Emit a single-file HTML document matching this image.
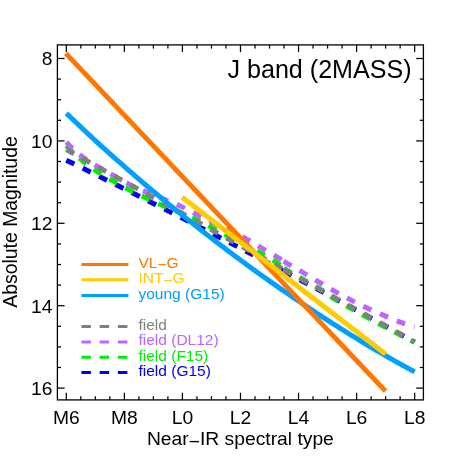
<!DOCTYPE html>
<html><head><meta charset="utf-8"><title>J band (2MASS)</title>
<style>
html,body{margin:0;padding:0;background:#fff;}
svg{display:block;font-family:"Liberation Sans",sans-serif;will-change:transform;}
</style></head><body>
<svg width="457" height="457" viewBox="0 0 457 457">
<rect width="457" height="457" fill="#fff"/>
<g fill="none" stroke-width="5" stroke-linecap="butt" stroke-linejoin="round">
<path d="M66.30,160.21 L68.74,161.40 L71.19,162.60 L73.63,163.79 L76.08,164.99 L78.52,166.19 L80.96,167.39 L83.41,168.59 L85.85,169.79 L88.29,170.99 L90.74,172.20 L93.18,173.40 L95.63,174.61 L98.07,175.82 L100.51,177.03 L102.96,178.24 L105.40,179.45 L107.84,180.66 L110.29,181.88 L112.73,183.09 L115.18,184.31 L117.62,185.53 L120.06,186.75 L122.51,187.97 L124.95,189.19 L127.40,190.41 L129.84,191.63 L132.28,192.86 L134.73,194.09 L137.17,195.31 L139.61,196.54 L142.06,197.77 L144.50,199.01 L146.95,200.24 L149.39,201.47 L151.83,202.71 L154.28,203.94 L156.72,205.18 L159.17,206.42 L161.61,207.66 L164.05,208.90 L166.50,210.14 L168.94,211.39 L171.38,212.63 L173.83,213.88 L176.27,215.12 L178.72,216.37 L181.16,217.62 L183.60,218.87 L186.05,220.12 L188.49,221.38 L190.93,222.63 L193.38,223.89 L195.82,225.14 L198.27,226.40 L200.71,227.66 L203.15,228.92 L205.60,230.18 L208.04,231.44 L210.49,232.71 L212.93,233.97 L215.37,235.24 L217.82,236.51 L220.26,237.77 L222.70,239.04 L225.15,240.31 L227.59,241.59 L230.04,242.86 L232.48,244.13 L234.92,245.41 L237.37,246.68 L239.81,247.96 L242.26,249.24 L244.70,250.52 L247.14,251.80 L249.59,253.08 L252.03,254.37 L254.47,255.65 L256.92,256.94 L259.36,258.22 L261.81,259.51 L264.25,260.80 L266.69,262.09 L269.14,263.38 L271.58,264.67 L274.02,265.96 L276.47,267.26 L278.91,268.55 L281.36,269.85 L283.80,271.15" stroke="#0000ee" stroke-dasharray="8.9 9.37"/><path d="M283.80,271.15 L286.22,272.44 L288.64,273.72 L291.07,275.01 L293.49,276.30 L295.91,277.60 L298.33,278.89 L300.76,280.18 L303.18,281.48 L305.60,282.77 L308.02,284.07 L310.44,285.37 L312.87,286.67 L315.29,287.97 L317.71,289.27 L320.13,290.57 L322.56,291.88 L324.98,293.18 L327.40,294.49 L329.82,295.79 L332.24,297.10 L334.67,298.41 L337.09,299.72 L339.51,301.03 L341.93,302.34 L344.36,303.65 L346.78,304.97 L349.20,306.28 L351.62,307.60 L354.04,308.92 L356.47,310.23 L358.89,311.55 L361.31,312.87 L363.73,314.19 L366.16,315.52 L368.58,316.84 L371.00,318.16 L373.42,319.49 L375.84,320.82 L378.27,322.14 L380.69,323.47 L383.11,324.80 L385.53,326.13 L387.96,327.46 L390.38,328.80 L392.80,330.13 L395.22,331.46 L397.64,332.80 L400.07,334.13 L402.49,335.47 L404.91,336.81 L407.33,338.15 L409.76,339.49 L412.18,340.83 L414.60,342.17" stroke="#0000ee" stroke-dasharray="8.9 9.37"/>
<path d="M66.30,145.49 L68.74,148.01 L71.19,150.46 L73.63,152.83 L76.08,155.11 L78.52,157.28 L80.96,159.43 L83.41,161.57 L85.85,163.65 L88.29,165.62 L90.74,167.44 L93.18,169.07 L95.63,170.61 L98.07,172.13 L100.51,173.63 L102.96,175.11 L105.40,176.56 L107.84,177.98 L110.29,179.37 L112.73,180.73 L115.18,182.08 L117.62,183.43 L120.06,184.78 L122.51,186.13 L124.95,187.48 L127.40,188.82 L129.84,190.16 L132.28,191.42 L134.73,192.62 L137.17,193.78 L139.61,194.92 L142.06,196.05 L144.50,197.19 L146.95,198.35 L149.39,199.49 L151.83,200.63 L154.28,201.75 L156.72,202.87 L159.17,203.97 L161.61,205.07 L164.05,206.13 L166.50,207.16 L168.94,208.17 L171.38,209.15 L173.83,210.13 L176.27,211.10 L178.72,212.06 L181.16,213.04 L183.60,214.03 L186.05,215.04 L188.49,216.08 L190.93,217.16 L193.38,218.28 L195.82,219.44 L198.27,220.63 L200.71,221.83 L203.15,223.05 L205.60,224.28 L208.04,225.52 L210.49,226.77 L212.93,228.03 L215.37,229.30 L217.82,230.57 L220.26,231.85 L222.70,233.13 L225.15,234.41 L227.59,235.68 L230.04,236.95 L232.48,238.22 L234.92,239.49 L237.37,240.75 L239.81,242.01 L242.26,243.28 L244.70,244.55 L247.14,245.83 L249.59,247.12 L252.03,248.41 L254.47,249.72 L256.92,251.04 L259.36,252.37 L261.81,253.72 L264.25,255.11 L266.69,256.51 L269.14,257.95 L271.58,259.40 L274.02,260.87 L276.47,262.36 L278.91,264.09 L281.36,266.01 L283.80,267.95" stroke="#00ee00" stroke-dasharray="8.9 9.37"/><path d="M283.80,267.95 L286.22,269.74 L288.64,271.26 L291.07,272.67 L293.49,274.06 L295.91,275.45 L298.33,276.82 L300.76,278.19 L303.18,279.55 L305.60,280.91 L308.02,282.26 L310.44,283.61 L312.87,284.95 L315.29,286.30 L317.71,287.66 L320.13,289.02 L322.56,290.52 L324.98,292.20 L327.40,293.99 L329.82,295.80 L332.24,297.55 L334.67,299.17 L337.09,300.60 L339.51,301.99 L341.93,303.37 L344.36,304.74 L346.78,306.10 L349.20,307.45 L351.62,308.80 L354.04,310.13 L356.47,311.47 L358.89,312.81 L361.31,314.15 L363.73,315.48 L366.16,316.82 L368.58,318.16 L371.00,319.48 L373.42,320.80 L375.84,322.10 L378.27,323.40 L380.69,324.69 L383.11,325.98 L385.53,327.28 L387.96,328.56 L390.38,329.85 L392.80,331.12 L395.22,332.39 L397.64,333.66 L400.07,334.92 L402.49,336.18 L404.91,337.43 L407.33,338.67 L409.76,339.91 L412.18,341.14 L414.60,342.36" stroke="#00ee00" stroke-dasharray="8.9 9.37"/>
<path d="M66.30,142.10 L68.74,144.68 L71.19,147.16 L73.63,149.53 L76.08,151.75 L78.52,153.79 L80.96,155.64 L83.41,157.43 L85.85,159.17 L88.29,160.85 L90.74,162.46 L93.18,163.99 L95.63,165.41 L98.07,166.82 L100.51,168.22 L102.96,169.61 L105.40,170.99 L107.84,172.37 L110.29,173.75 L112.73,175.11 L115.18,176.48 L117.62,177.83 L120.06,179.18 L122.51,180.53 L124.95,181.88 L127.40,183.22 L129.84,184.57 L132.28,185.92 L134.73,187.26 L137.17,188.44 L139.61,189.47 L142.06,190.43 L144.50,191.39 L146.95,192.41 L149.39,193.42 L151.83,194.42 L154.28,195.42 L156.72,196.41 L159.17,197.39 L161.61,198.38 L164.05,199.38 L166.50,200.34 L168.94,201.26 L171.38,202.18 L173.83,203.13 L176.27,204.13 L178.72,205.20 L181.16,206.38 L183.60,207.63 L186.05,208.90 L188.49,210.18 L190.93,211.47 L193.38,212.76 L195.82,214.04 L198.27,215.29 L200.71,216.52 L203.15,217.73 L205.60,218.92 L208.04,220.10 L210.49,221.27 L212.93,222.43 L215.37,223.59 L217.82,224.74 L220.26,225.89 L222.70,227.04 L225.15,228.20 L227.59,229.36 L230.04,230.54 L232.48,231.73 L234.92,232.94 L237.37,234.17 L239.81,235.42 L242.26,236.69 L244.70,237.99 L247.14,239.33 L249.59,240.72 L252.03,242.19 L254.47,243.71 L256.92,245.24 L259.36,246.75 L261.81,248.21 L264.25,249.62 L266.69,251.02 L269.14,252.40 L271.58,253.79 L274.02,255.18 L276.47,256.59 L278.91,258.06 L281.36,259.62 L283.80,261.22" stroke="#bb66ff" stroke-dasharray="8.9 9.37"/><path d="M283.80,261.22 L286.22,262.78 L288.64,264.26 L291.07,265.67 L293.49,267.07 L295.91,268.46 L298.33,269.85 L300.76,271.24 L303.18,272.65 L305.60,274.07 L308.02,275.51 L310.44,276.96 L312.87,278.42 L315.29,279.87 L317.71,281.31 L320.13,282.74 L322.56,284.18 L324.98,285.62 L327.40,287.05 L329.82,288.47 L332.24,289.87 L334.67,291.24 L337.09,292.57 L339.51,293.90 L341.93,295.21 L344.36,296.51 L346.78,297.81 L349.20,299.10 L351.62,300.39 L354.04,301.65 L356.47,302.88 L358.89,304.07 L361.31,305.24 L363.73,306.40 L366.16,307.55 L368.58,308.69 L371.00,309.81 L373.42,310.91 L375.84,311.97 L378.27,313.02 L380.69,314.06 L383.11,315.09 L385.53,316.12 L387.96,317.15 L390.38,318.16 L392.80,319.17 L395.22,320.15 L397.64,321.11 L400.07,322.05 L402.49,322.95 L404.91,323.80 L407.33,324.60 L409.76,325.35 L412.18,326.07 L414.60,326.76" stroke="#bb66ff" stroke-dasharray="8.9 9.37"/>
<path d="M66.30,149.50 L68.74,150.85 L71.19,152.20 L73.63,153.55 L76.08,154.90 L78.52,156.24 L80.96,157.59 L83.41,158.94 L85.85,160.29 L88.29,161.64 L90.74,162.99 L93.18,164.34 L95.63,165.69 L98.07,167.04 L100.51,168.39 L102.96,169.73 L105.40,171.08 L107.84,172.43 L110.29,173.78 L112.73,175.13 L115.18,176.48 L117.62,177.83 L120.06,179.18 L122.51,180.53 L124.95,181.88 L127.40,183.22 L129.84,184.57 L132.28,185.92 L134.73,187.27 L137.17,188.62 L139.61,189.97 L142.06,191.32 L144.50,192.67 L146.95,194.02 L149.39,195.37 L151.83,196.71 L154.28,198.06 L156.72,199.41 L159.17,200.76 L161.61,202.11 L164.05,203.46 L166.50,204.81 L168.94,206.16 L171.38,207.51 L173.83,208.86 L176.27,210.20 L178.72,211.55 L181.16,212.90 L183.60,214.25 L186.05,215.60 L188.49,216.95 L190.93,218.30 L193.38,219.65 L195.82,221.00 L198.27,222.35 L200.71,223.69 L203.15,225.04 L205.60,226.39 L208.04,227.74 L210.49,229.09 L212.93,230.44 L215.37,231.79 L217.82,233.14 L220.26,234.49 L222.70,235.84 L225.15,237.18 L227.59,238.53 L230.04,239.88 L232.48,241.23 L234.92,242.58 L237.37,243.93 L239.81,245.28 L242.26,246.63 L244.70,247.98 L247.14,249.33 L249.59,250.67 L252.03,252.02 L254.47,253.37 L256.92,254.72 L259.36,256.07 L261.81,257.42 L264.25,258.77 L266.69,260.12 L269.14,261.47 L271.58,262.82 L274.02,264.16 L276.47,265.51 L278.91,266.86 L281.36,268.21 L283.80,269.56" stroke="#808080" stroke-dasharray="8.9 9.37"/><path d="M283.80,269.56 L286.22,270.90 L288.64,272.23 L291.07,273.57 L293.49,274.91 L295.91,276.25 L298.33,277.58 L300.76,278.92 L303.18,280.26 L305.60,281.59 L308.02,282.93 L310.44,284.27 L312.87,285.60 L315.29,286.94 L317.71,288.28 L320.13,289.62 L322.56,290.95 L324.98,292.29 L327.40,293.63 L329.82,294.96 L332.24,296.30 L334.67,297.64 L337.09,298.98 L339.51,300.31 L341.93,301.65 L344.36,302.99 L346.78,304.32 L349.20,305.66 L351.62,307.00 L354.04,308.33 L356.47,309.67 L358.89,311.01 L361.31,312.35 L363.73,313.68 L366.16,315.02 L368.58,316.36 L371.00,317.69 L373.42,319.03 L375.84,320.37 L378.27,321.71 L380.69,323.04 L383.11,324.38 L385.53,325.72 L387.96,327.05 L390.38,328.39 L392.80,329.73 L395.22,331.07 L397.64,332.40 L400.07,333.74 L402.49,335.08 L404.91,336.41 L407.33,337.75 L409.76,339.09 L412.18,340.42 L414.60,341.76" stroke="#808080" stroke-dasharray="8.9 9.37"/>
<path d="M66.30,113.34 L68.81,115.68 L71.31,118.02 L73.82,120.38 L76.32,122.75 L78.83,125.11 L81.33,127.48 L83.84,129.85 L86.35,132.21 L88.85,134.57 L91.36,136.91 L93.86,139.23 L96.37,141.54 L98.87,143.83 L101.38,146.10 L103.89,148.35 L106.39,150.60 L108.90,152.85 L111.40,155.08 L113.91,157.31 L116.42,159.54 L118.92,161.75 L121.43,163.96 L123.93,166.16 L126.44,168.35 L128.94,170.53 L131.45,172.71 L133.96,174.88 L136.46,177.04 L138.97,179.19 L141.47,181.34 L143.98,183.47 L146.48,185.60 L148.99,187.72 L151.50,189.83 L154.00,191.93 L156.51,194.02 L159.01,196.11 L161.52,198.19 L164.02,200.27 L166.53,202.33 L169.04,204.39 L171.54,206.45 L174.05,208.49 L176.55,210.53 L179.06,212.56 L181.56,214.58 L184.07,216.60 L186.58,218.61 L189.08,220.61 L191.59,222.60 L194.09,224.59 L196.60,226.56 L199.11,228.54 L201.61,230.50 L204.12,232.46 L206.62,234.41 L209.13,236.36 L211.63,238.29 L214.14,240.22 L216.65,242.14 L219.15,244.05 L221.66,245.96 L224.16,247.86 L226.67,249.75 L229.17,251.64 L231.68,253.52 L234.19,255.39 L236.69,257.25 L239.20,259.11 L241.70,260.96 L244.21,262.80 L246.71,264.64 L249.22,266.47 L251.73,268.30 L254.23,270.11 L256.74,271.92 L259.24,273.72 L261.75,275.51 L264.25,277.29 L266.76,279.07 L269.27,280.84 L271.77,282.60 L274.28,284.35 L276.78,286.10 L279.29,287.84 L281.79,289.58 L284.30,291.31 L286.81,293.03 L289.31,294.74 L291.82,296.45 L294.32,298.16 L296.83,299.86 L299.34,301.55 L301.84,303.24 L304.35,304.93 L306.85,306.61 L309.36,308.28 L311.86,309.95 L314.37,311.61 L316.88,313.26 L319.38,314.91 L321.89,316.55 L324.39,318.18 L326.90,319.81 L329.40,321.42 L331.91,323.03 L334.42,324.64 L336.92,326.23 L339.43,327.82 L341.93,329.39 L344.44,330.97 L346.94,332.53 L349.45,334.09 L351.96,335.64 L354.46,337.18 L356.97,338.72 L359.47,340.25 L361.98,341.77 L364.48,343.28 L366.99,344.79 L369.50,346.28 L372.00,347.77 L374.51,349.25 L377.01,350.72 L379.52,352.19 L382.03,353.64 L384.53,355.09 L387.04,356.53 L389.54,357.97 L392.05,359.40 L394.55,360.83 L397.06,362.24 L399.57,363.64 L402.07,365.03 L404.58,366.41 L407.08,367.77 L409.59,369.12 L412.09,370.45 L414.60,371.77" stroke="#00a0ff"/>
<path d="M65.8,53.4 L385.5,391.1" stroke="#ff7700"/>
<path d="M182.1,197.3 L385.6,354.0" stroke="#ffcc00"/>
</g>
<g stroke="#000" stroke-width="1.25"><line x1="66.30" y1="399.9" x2="66.30" y2="392.7"/><line x1="66.30" y1="44.9" x2="66.30" y2="52.1"/><line x1="80.81" y1="399.9" x2="80.81" y2="396.2"/><line x1="80.81" y1="44.9" x2="80.81" y2="48.6"/><line x1="95.33" y1="399.9" x2="95.33" y2="396.2"/><line x1="95.33" y1="44.9" x2="95.33" y2="48.6"/><line x1="109.84" y1="399.9" x2="109.84" y2="396.2"/><line x1="109.84" y1="44.9" x2="109.84" y2="48.6"/><line x1="124.36" y1="399.9" x2="124.36" y2="392.7"/><line x1="124.36" y1="44.9" x2="124.36" y2="52.1"/><line x1="138.88" y1="399.9" x2="138.88" y2="396.2"/><line x1="138.88" y1="44.9" x2="138.88" y2="48.6"/><line x1="153.39" y1="399.9" x2="153.39" y2="396.2"/><line x1="153.39" y1="44.9" x2="153.39" y2="48.6"/><line x1="167.91" y1="399.9" x2="167.91" y2="396.2"/><line x1="167.91" y1="44.9" x2="167.91" y2="48.6"/><line x1="182.42" y1="399.9" x2="182.42" y2="392.7"/><line x1="182.42" y1="44.9" x2="182.42" y2="52.1"/><line x1="196.94" y1="399.9" x2="196.94" y2="396.2"/><line x1="196.94" y1="44.9" x2="196.94" y2="48.6"/><line x1="211.45" y1="399.9" x2="211.45" y2="396.2"/><line x1="211.45" y1="44.9" x2="211.45" y2="48.6"/><line x1="225.97" y1="399.9" x2="225.97" y2="396.2"/><line x1="225.97" y1="44.9" x2="225.97" y2="48.6"/><line x1="240.48" y1="399.9" x2="240.48" y2="392.7"/><line x1="240.48" y1="44.9" x2="240.48" y2="52.1"/><line x1="255.00" y1="399.9" x2="255.00" y2="396.2"/><line x1="255.00" y1="44.9" x2="255.00" y2="48.6"/><line x1="269.51" y1="399.9" x2="269.51" y2="396.2"/><line x1="269.51" y1="44.9" x2="269.51" y2="48.6"/><line x1="284.03" y1="399.9" x2="284.03" y2="396.2"/><line x1="284.03" y1="44.9" x2="284.03" y2="48.6"/><line x1="298.54" y1="399.9" x2="298.54" y2="392.7"/><line x1="298.54" y1="44.9" x2="298.54" y2="52.1"/><line x1="313.06" y1="399.9" x2="313.06" y2="396.2"/><line x1="313.06" y1="44.9" x2="313.06" y2="48.6"/><line x1="327.57" y1="399.9" x2="327.57" y2="396.2"/><line x1="327.57" y1="44.9" x2="327.57" y2="48.6"/><line x1="342.09" y1="399.9" x2="342.09" y2="396.2"/><line x1="342.09" y1="44.9" x2="342.09" y2="48.6"/><line x1="356.60" y1="399.9" x2="356.60" y2="392.7"/><line x1="356.60" y1="44.9" x2="356.60" y2="52.1"/><line x1="371.12" y1="399.9" x2="371.12" y2="396.2"/><line x1="371.12" y1="44.9" x2="371.12" y2="48.6"/><line x1="385.63" y1="399.9" x2="385.63" y2="396.2"/><line x1="385.63" y1="44.9" x2="385.63" y2="48.6"/><line x1="400.15" y1="399.9" x2="400.15" y2="396.2"/><line x1="400.15" y1="44.9" x2="400.15" y2="48.6"/><line x1="414.66" y1="399.9" x2="414.66" y2="392.7"/><line x1="414.66" y1="44.9" x2="414.66" y2="52.1"/><line x1="57.4" y1="58.50" x2="64.6" y2="58.50"/><line x1="423.4" y1="58.50" x2="416.2" y2="58.50"/><line x1="57.4" y1="79.10" x2="61.0" y2="79.10"/><line x1="423.4" y1="79.10" x2="419.79999999999995" y2="79.10"/><line x1="57.4" y1="99.70" x2="61.0" y2="99.70"/><line x1="423.4" y1="99.70" x2="419.79999999999995" y2="99.70"/><line x1="57.4" y1="120.30" x2="61.0" y2="120.30"/><line x1="423.4" y1="120.30" x2="419.79999999999995" y2="120.30"/><line x1="57.4" y1="140.90" x2="64.6" y2="140.90"/><line x1="423.4" y1="140.90" x2="416.2" y2="140.90"/><line x1="57.4" y1="161.50" x2="61.0" y2="161.50"/><line x1="423.4" y1="161.50" x2="419.79999999999995" y2="161.50"/><line x1="57.4" y1="182.10" x2="61.0" y2="182.10"/><line x1="423.4" y1="182.10" x2="419.79999999999995" y2="182.10"/><line x1="57.4" y1="202.70" x2="61.0" y2="202.70"/><line x1="423.4" y1="202.70" x2="419.79999999999995" y2="202.70"/><line x1="57.4" y1="223.30" x2="64.6" y2="223.30"/><line x1="423.4" y1="223.30" x2="416.2" y2="223.30"/><line x1="57.4" y1="243.90" x2="61.0" y2="243.90"/><line x1="423.4" y1="243.90" x2="419.79999999999995" y2="243.90"/><line x1="57.4" y1="264.50" x2="61.0" y2="264.50"/><line x1="423.4" y1="264.50" x2="419.79999999999995" y2="264.50"/><line x1="57.4" y1="285.10" x2="61.0" y2="285.10"/><line x1="423.4" y1="285.10" x2="419.79999999999995" y2="285.10"/><line x1="57.4" y1="305.70" x2="64.6" y2="305.70"/><line x1="423.4" y1="305.70" x2="416.2" y2="305.70"/><line x1="57.4" y1="326.30" x2="61.0" y2="326.30"/><line x1="423.4" y1="326.30" x2="419.79999999999995" y2="326.30"/><line x1="57.4" y1="346.90" x2="61.0" y2="346.90"/><line x1="423.4" y1="346.90" x2="419.79999999999995" y2="346.90"/><line x1="57.4" y1="367.50" x2="61.0" y2="367.50"/><line x1="423.4" y1="367.50" x2="419.79999999999995" y2="367.50"/><line x1="57.4" y1="388.10" x2="64.6" y2="388.10"/><line x1="423.4" y1="388.10" x2="416.2" y2="388.10"/></g>
<rect x="57.4" y="44.9" width="366.0" height="355.0" fill="none" stroke="#000" stroke-width="1.3"/>
<g font-size="19.27px" fill="#000"><text x="66.30" y="423.9" text-anchor="middle">M6</text><text x="124.36" y="423.9" text-anchor="middle">M8</text><text x="182.42" y="423.9" text-anchor="middle">L0</text><text x="240.48" y="423.9" text-anchor="middle">L2</text><text x="298.54" y="423.9" text-anchor="middle">L4</text><text x="356.60" y="423.9" text-anchor="middle">L6</text><text x="414.66" y="423.9" text-anchor="middle">L8</text><text x="52.5" y="65.40" text-anchor="end">8</text><text x="52.5" y="147.80" text-anchor="end">10</text><text x="52.5" y="230.20" text-anchor="end">12</text><text x="52.5" y="312.60" text-anchor="end">14</text><text x="52.5" y="395.00" text-anchor="end">16</text>
<text x="240.4" y="444.5" text-anchor="middle">Near<tspan dy="0.16em">−</tspan><tspan dy="-0.16em">IR spectral type</tspan></text>
<text transform="translate(16.5,222.0) rotate(-90)" text-anchor="middle" font-size="19.4px">Absolute Magnitude</text>
</g>
<text x="411.6" y="77.6" text-anchor="end" font-size="25.1px" fill="#000">J band (2MASS)</text>
<g><line x1="81.4" y1="264.4" x2="128.4" y2="264.4" stroke="#ff7700" stroke-width="3"/><line x1="81.4" y1="279.8" x2="128.4" y2="279.8" stroke="#ffcc00" stroke-width="3"/><line x1="81.4" y1="295.4" x2="128.4" y2="295.4" stroke="#00a0ff" stroke-width="3"/><line x1="81.4" y1="326.4" x2="128.4" y2="326.4" stroke="#808080" stroke-width="3" stroke-dasharray="9.5 8.75"/><line x1="81.4" y1="341.9" x2="128.4" y2="341.9" stroke="#bb66ff" stroke-width="3" stroke-dasharray="9.5 8.75"/><line x1="81.4" y1="357.3" x2="128.4" y2="357.3" stroke="#00ee00" stroke-width="3" stroke-dasharray="9.5 8.75"/><line x1="81.4" y1="372.5" x2="128.4" y2="372.5" stroke="#0000ee" stroke-width="3" stroke-dasharray="9.5 8.75"/></g>
<g font-size="15.5px"><text x="138.5" y="268.0" fill="#ff7700">VL<tspan dy="0.16em">−</tspan><tspan dy="-0.16em">G</tspan></text><text x="138.5" y="283.3" fill="#ffcc00">INT<tspan dy="0.16em">−</tspan><tspan dy="-0.16em">G</tspan></text><text x="138.5" y="298.6" fill="#00a0ff">young (G15)</text><text x="138.5" y="330.0" fill="#808080">field</text><text x="138.5" y="345.4" fill="#bb66ff">field (DL12)</text><text x="138.5" y="360.8" fill="#00ee00">field (F15)</text><text x="138.5" y="376.1" fill="#0000ee">field (G15)</text></g>
</svg>
</body></html>
